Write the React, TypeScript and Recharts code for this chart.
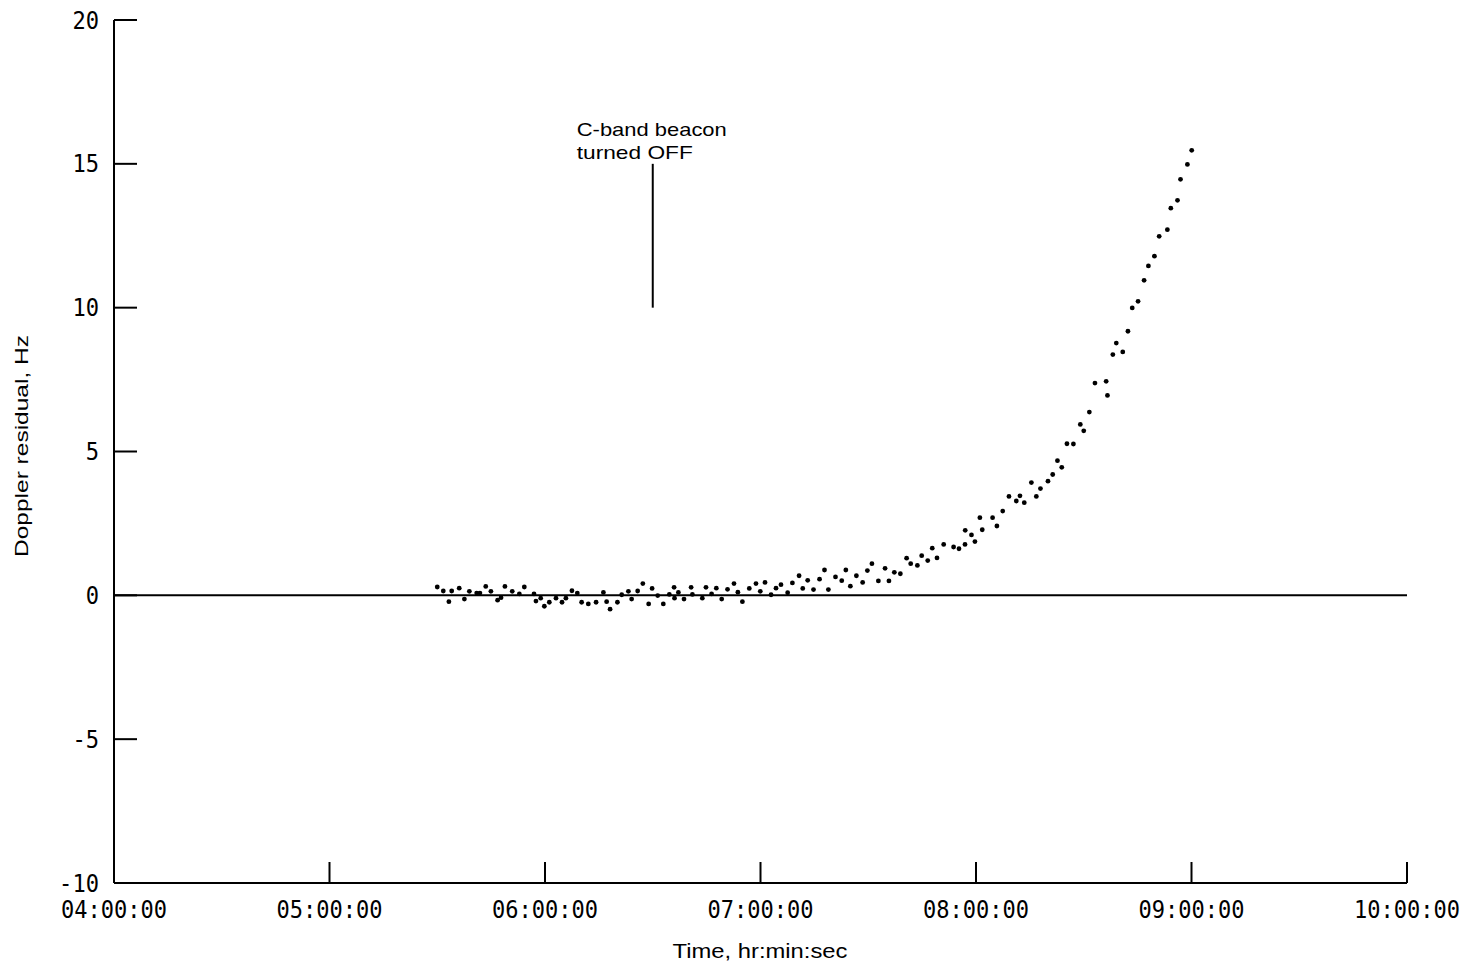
import { ScatterChart, Scatter, XAxis, YAxis, ReferenceLine, Label } from "recharts";

// time in decimal hours, residual in Hz
const times = [
  5.5, 5.528, 5.554, 5.567, 5.602, 5.626, 5.649, 5.683, 5.698, 5.725, 5.749, 5.78, 5.796, 5.814, 5.848, 5.881,
  5.904, 5.949, 5.958, 5.98, 5.997, 6.02, 6.051, 6.079, 6.097, 6.125, 6.15, 6.17, 6.201, 6.237, 6.271, 6.286,
  6.302, 6.336, 6.356, 6.387, 6.402, 6.43, 6.454, 6.481, 6.497, 6.523, 6.549, 6.577, 6.599, 6.601, 6.619, 6.645,
  6.678, 6.684, 6.73, 6.747, 6.773, 6.795, 6.82, 6.847, 6.877, 6.895, 6.916, 6.948, 6.979, 6.999, 7.021, 7.049,
  7.072, 7.095, 7.126, 7.148, 7.179, 7.196, 7.219, 7.246, 7.274, 7.297, 7.315, 7.348, 7.377, 7.396, 7.417, 7.445,
  7.474, 7.496, 7.517, 7.547, 7.578, 7.596, 7.621, 7.649, 7.678, 7.697, 7.728, 7.748, 7.776, 7.797, 7.819, 7.85,
  7.896, 7.921, 7.949, 7.95, 7.979, 7.995, 8.018, 8.029, 8.077, 8.097, 8.124, 8.153, 8.187, 8.204, 8.224, 8.257,
  8.28, 8.299, 8.334, 8.356, 8.378, 8.398, 8.422, 8.452, 8.484, 8.5, 8.526, 8.552, 8.604, 8.61, 8.635, 8.651,
  8.681, 8.705, 8.725, 8.752, 8.78, 8.8, 8.828, 8.85, 8.888, 8.904, 8.935, 8.949, 8.981, 9.001,
];

const residuals = [
  0.29, 0.15, -0.22, 0.15, 0.25, -0.13, 0.14, 0.08, 0.08, 0.31, 0.14, -0.17, -0.08, 0.31, 0.14, 0.05,
  0.29, 0.05, -0.2, -0.1, -0.38, -0.24, -0.1, -0.24, -0.1, 0.16, 0.08, -0.24, -0.3, -0.24, 0.1, -0.22,
  -0.48, -0.24, 0.02, 0.14, -0.13, 0.15, 0.41, -0.3, 0.24, -0.01, -0.3, 0.03, 0.28, -0.1, 0.1, -0.13,
  0.28, 0.03, -0.1, 0.28, 0.05, 0.25, -0.13, 0.21, 0.41, 0.11, -0.22, 0.24, 0.41, 0.14, 0.45, 0.02,
  0.25, 0.37, 0.09, 0.43, 0.68, 0.24, 0.52, 0.2, 0.56, 0.88, 0.2, 0.64, 0.51, 0.88, 0.32, 0.68,
  0.45, 0.86, 1.1, 0.5, 0.94, 0.5, 0.8, 0.75, 1.29, 1.1, 1.04, 1.38, 1.21, 1.64, 1.3, 1.77,
  1.68, 1.62, 1.77, 2.26, 2.1, 1.87, 2.7, 2.28, 2.7, 2.41, 2.93, 3.44, 3.28, 3.46, 3.22, 3.92,
  3.44, 3.71, 3.97, 4.2, 4.68, 4.45, 5.27, 5.26, 5.94, 5.72, 6.37, 7.38, 7.44, 6.95, 8.37, 8.77,
  8.46, 9.18, 9.99, 10.22, 10.95, 11.45, 11.79, 12.48, 12.71, 13.46, 13.73, 14.46, 14.98, 15.47,
];

const xTicks = [4, 5, 6, 7, 8, 9, 10];
const yTicks = [-10, -5, 0, 5, 10, 15, 20];

const beaconOffTime = 6.5;
const markerRange = [10, 15];

const PLOT_LEFT = 114;
const PLOT_BOTTOM = 883;
const MONO = "'DejaVu Sans Mono', monospace";
const SANS = "'Liberation Sans', Arial, sans-serif";

const fmtTime = (h: number) => `${String(h).padStart(2, "0")}:00:00`;

const YTick = (props: any) => {
  const { y, payload } = props;
  const label = String(payload.value);
  return (
    <g>
      <line x1={PLOT_LEFT} x2={PLOT_LEFT + 23} y1={y} y2={y} stroke="#000" strokeWidth={2} />
      <text
        x={PLOT_LEFT - 15}
        y={y}
        dy={8.5}
        textAnchor="end"
        fontFamily={MONO}
        fontSize={24}
        textLength={label.length * 13.3}
        lengthAdjust="spacingAndGlyphs"
        fill="#000"
      >
        {label}
      </text>
    </g>
  );
};

const XTick = (props: any) => {
  const { x, payload } = props;
  return (
    <g>
      <line x1={x} x2={x} y1={PLOT_BOTTOM} y2={PLOT_BOTTOM - 21} stroke="#000" strokeWidth={2} />
      <text
        x={x}
        y={PLOT_BOTTOM + 35}
        textAnchor="middle"
        fontFamily={MONO}
        fontSize={24}
        textLength={106}
        lengthAdjust="spacingAndGlyphs"
        fill="#000"
      >
        {fmtTime(payload.value)}
      </text>
    </g>
  );
};

const Dot = (props: any) => <circle cx={props.cx} cy={props.cy} r={2.4} fill="#000" />;

export default function App() {
  const data = times.map((t, i) => ({ t, v: residuals[i] }));

  return (
    <div style={{ position: "absolute", left: 0, top: 0, background: "#fff" }}>
      <ScatterChart width={1474} height={974} margin={{ top: 20, right: 67, bottom: 0, left: 0 }}>
        <XAxis
          dataKey="t"
          type="number"
          domain={[4, 10]}
          ticks={xTicks}
          height={91}
          tickSize={0}
          tick={<XTick />}
          axisLine={{ stroke: "#000", strokeWidth: 2 }}
          allowDataOverflow
        >
          <Label
            content={() => (
              <text
                x={760}
                y={958}
                textAnchor="middle"
                fontFamily={SANS}
                fontSize={21}
                textLength={175}
                lengthAdjust="spacingAndGlyphs"
                fill="#000"
              >
                Time, hr:min:sec
              </text>
            )}
          />
        </XAxis>
        <YAxis
          dataKey="v"
          type="number"
          domain={[-10, 20]}
          ticks={yTicks}
          width={114}
          tickSize={0}
          tick={<YTick />}
          axisLine={{ stroke: "#000", strokeWidth: 2 }}
          allowDataOverflow
        >
          <Label
            content={() => (
              <text
                transform="rotate(-90)"
                x={-446}
                y={28}
                textAnchor="middle"
                fontFamily={SANS}
                fontSize={19}
                textLength={222}
                lengthAdjust="spacingAndGlyphs"
                fill="#000"
              >
                Doppler residual, Hz
              </text>
            )}
          />
        </YAxis>
        <ReferenceLine y={0} stroke="#000" strokeWidth={2} />
        <ReferenceLine
          segment={[
            { x: beaconOffTime, y: markerRange[0] },
            { x: beaconOffTime, y: markerRange[1] },
          ]}
          stroke="#000"
          strokeWidth={2}
          label={(props: any) => {
            const vb = props.viewBox || {};
            const lx = (vb.x ?? 652) - 76;
            const top = vb.y ?? 163;
            return (
              <text fontFamily={SANS} fontSize={19} fill="#000">
                <tspan x={lx} y={top - 28} textLength={150} lengthAdjust="spacingAndGlyphs">
                  C-band beacon
                </tspan>
                <tspan x={lx} y={top - 5} textLength={116} lengthAdjust="spacingAndGlyphs">
                  turned OFF
                </tspan>
              </text>
            );
          }}
        />
        <Scatter data={data} shape={<Dot />} isAnimationActive={false} />
      </ScatterChart>
    </div>
  );
}
